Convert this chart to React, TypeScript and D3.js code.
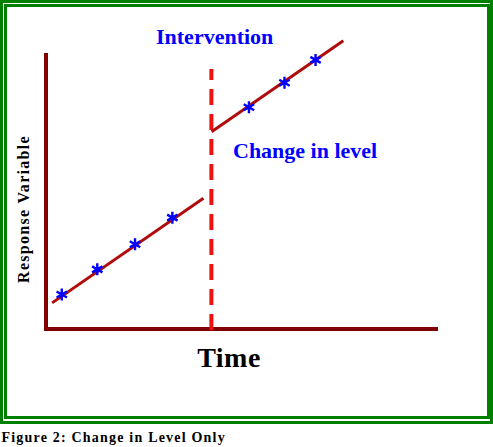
import React from "react";
import * as d3 from "d3";

// Time index of each observation and its response value
const preTimes = [1.0, 1.96, 2.98, 3.99];
const preValues = [2.07, 3.05, 4.03, 5.07];
const postTimes = [6.06, 7.02, 7.86];
const postValues = [9.38, 10.34, 11.23];

// fitted trend segments (time, value)
const preLine = [[0.74, 1.74], [4.83, 5.83]];
const postLine = [[5.05, 8.42], [8.61, 11.98]];

const interventionTime = 5.05;
const xDomain = [0.52, 11.17];
const yDomain = [0.72, 11.5];

const labels = {
  intervention: "Intervention",
  change: "Change in level",
  xTitle: "Time",
  yTitle: "Response Variable",
  caption: "Figure 2: Change in Level Only",
};

const W = 493;
const H = 447;
const serif = "'Liberation Serif', 'Times New Roman', serif";

export default function App() {
  const x = d3.scaleLinear().domain(xDomain).range([44, 438]);
  const y = d3.scaleLinear().domain(yDomain).range([329, 53]);
  const line = d3
    .line<number[]>()
    .x((d) => x(d[0]))
    .y((d) => y(d[1]));

  const star = (cx: number, cy: number, key: string) => {
    const r = 6;
    const parts: string[] = [];
    [90, 30, 150].forEach((a) => {
      const rad = (a * Math.PI) / 180;
      const dx = r * Math.cos(rad);
      const dy = r * Math.sin(rad);
      parts.push(`M${cx - dx},${cy - dy}L${cx + dx},${cy + dy}`);
    });
    return (
      <path key={key} d={parts.join("")} stroke="#0000ff" strokeWidth={2.4} fill="none" />
    );
  };

  const xAxisY = y(yDomain[0]);
  return (
    <svg
      width={W}
      height={H}
      style={{ position: "absolute", left: 0, top: 0, background: "#fff" }}
    >
      <rect x={1.5} y={1.5} width={490} height={421} fill="none" stroke="#008000" strokeWidth={3} />
      <rect x={5.5} y={5.5} width={483} height={412} fill="none" stroke="#008000" strokeWidth={3} />

      {/* axes */}
      <line x1={x(xDomain[0]) + 2} x2={x(xDomain[0]) + 2} y1={y(yDomain[1])} y2={xAxisY + 2} stroke="#800000" strokeWidth={4} />
      <line x1={x(xDomain[0])} x2={x(xDomain[1])} y1={xAxisY} y2={xAxisY} stroke="#800000" strokeWidth={4} />

      {/* intervention line */}
      <line
        x1={x(interventionTime) - 0.2}
        x2={x(interventionTime) - 0.2}
        y1={xAxisY + 1}
        y2={69}
        stroke="#ee1111"
        strokeWidth={4}
        strokeDasharray="16 9"
      />

      {/* trend segments */}
      <path d={line(preLine) || ""} stroke="#b00c0c" strokeWidth={3} fill="none" />
      <path d={line(postLine) || ""} stroke="#b00c0c" strokeWidth={3} fill="none" />

      {preTimes.map((t, i) => star(x(t), y(preValues[i]), "a" + i))}
      {postTimes.map((t, i) => star(x(t), y(postValues[i]), "b" + i))}

      <text x={156} y={44} fontFamily={serif} fontWeight="bold" fontSize={22} fill="#0000ff">
        {labels.intervention}
      </text>
      <text x={233} y={157.5} fontFamily={serif} fontWeight="bold" fontSize={22} fill="#0000ff">
        {labels.change}
      </text>
      <text x={229} y={367} textAnchor="middle" fontFamily={serif} fontWeight="bold" fontSize={28} fill="#000" letterSpacing={0.5}>
        {labels.xTitle}
      </text>
      <text
        transform="translate(28.5,209) rotate(-90)"
        textAnchor="middle"
        fontFamily={serif}
        fontWeight="bold"
        fontSize={16}
        letterSpacing={1.3}
        fill="#000"
      >
        {labels.yTitle}
      </text>
      <text x={1.5} y={442} fontFamily={serif} fontWeight="bold" fontSize={14} letterSpacing={1.2} fill="#000">
        {labels.caption}
      </text>
    </svg>
  );
}
